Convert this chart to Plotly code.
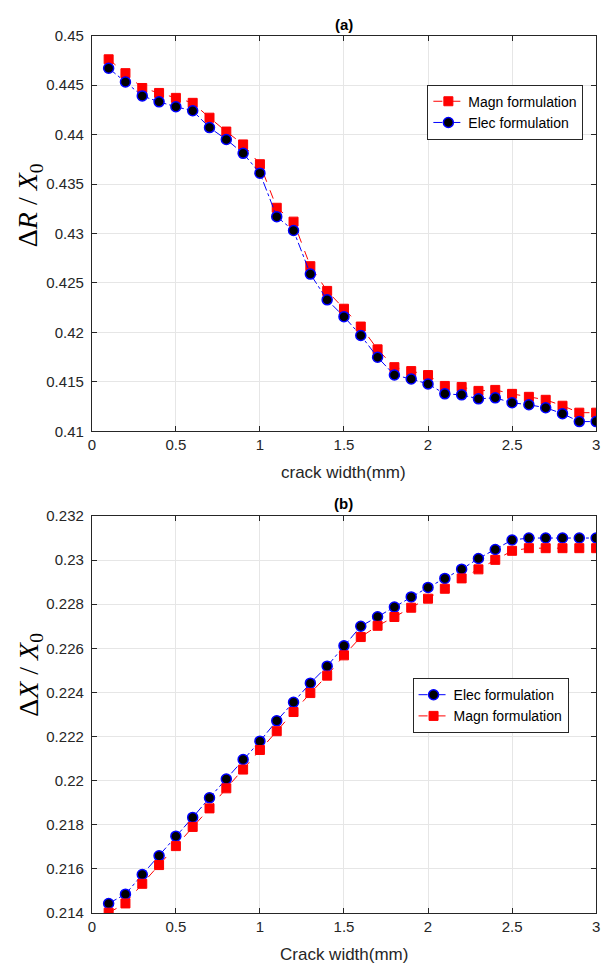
import plotly.graph_objects as go

crack_width = [round(0.1 * i, 1) for i in range(1, 31)]

# (a) ΔR / X0
dR_magn = [0.4476, 0.4462, 0.4447, 0.4442, 0.4437, 0.4432, 0.4417, 0.4403, 0.4390, 0.4370,
           0.4326, 0.4312, 0.4267, 0.4242, 0.4224, 0.4206, 0.4183, 0.4165, 0.4161, 0.4157,
           0.4146, 0.4145, 0.4141, 0.4142, 0.4138, 0.4135, 0.4132, 0.4126, 0.4119, 0.4119]
dR_elec = [0.4467, 0.4453, 0.4439, 0.4433, 0.4428, 0.4424, 0.4407, 0.4395, 0.4381, 0.4361,
           0.4317, 0.4303, 0.4259, 0.4233, 0.4216, 0.4197, 0.4175, 0.4157, 0.4153, 0.4148,
           0.4138, 0.4137, 0.4133, 0.4134, 0.4129, 0.4127, 0.4124, 0.4118, 0.4110, 0.4110]

# (b) ΔX / X0
dX_elec = [0.21443, 0.21485, 0.21574, 0.21659, 0.21748, 0.21833, 0.21922, 0.22007, 0.22096, 0.22179,
           0.22271, 0.22355, 0.22442, 0.22519, 0.22611, 0.22700, 0.22743, 0.22787, 0.22833, 0.22876,
           0.22917, 0.22959, 0.23007, 0.23048, 0.23091, 0.23100, 0.23100, 0.23100, 0.23100, 0.23100]
dX_magn = [0.21401, 0.21443, 0.21532, 0.21617, 0.21703, 0.21790, 0.21874, 0.21965, 0.22050, 0.22139,
           0.22224, 0.22311, 0.22397, 0.22476, 0.22568, 0.22651, 0.22702, 0.22742, 0.22784, 0.22825,
           0.22870, 0.22917, 0.22958, 0.23001, 0.23042, 0.23054, 0.23054, 0.23054, 0.23054, 0.23054]

x_ticks = [0, 0.5, 1, 1.5, 2, 2.5, 3]
x_ticktext = ["0", "0.5", "1", "1.5", "2", "2.5", "3"]
ya_ticks = [0.41, 0.415, 0.42, 0.425, 0.43, 0.435, 0.44, 0.445, 0.45]
ya_ticktext = ["0.41", "0.415", "0.42", "0.425", "0.43", "0.435", "0.44", "0.445", "0.45"]
yb_ticks = [0.214, 0.216, 0.218, 0.22, 0.222, 0.224, 0.226, 0.228, 0.23, 0.232]
yb_ticktext = ["0.214", "0.216", "0.218", "0.22", "0.222", "0.224", "0.226", "0.228", "0.23", "0.232"]

W, H = 609, 973
RED = "#ff0000"
BLUE = "#0000ff"

def magn_trace(y, xa, ya, legend):
    return go.Scatter(x=crack_width, y=y, xaxis=xa, yaxis=ya, legend=legend,
                      name="Magn formulation", mode="lines+markers",
                      line=dict(color=RED, width=1, dash="dash"),
                      marker=dict(symbol="square", size=9, color=RED,
                                  line=dict(color=RED, width=1)))

def elec_trace(y, xa, ya, legend):
    return go.Scatter(x=crack_width, y=y, xaxis=xa, yaxis=ya, legend=legend,
                      name="Elec formulation", mode="lines+markers",
                      line=dict(color=BLUE, width=1, dash="dashdot"),
                      marker=dict(symbol="circle", size=10, color="black",
                                  line=dict(color=BLUE, width=1.5)))

fig = go.Figure()
fig.add_trace(magn_trace(dR_magn, "x", "y", "legend"))
fig.add_trace(elec_trace(dR_elec, "x", "y", "legend"))
fig.add_trace(elec_trace(dX_elec, "x2", "y2", "legend2"))
fig.add_trace(magn_trace(dX_magn, "x2", "y2", "legend2"))

x0, x1 = 89 / W, 600 / W
top_dom = [1 - 430 / H, 1 - 27 / H]
bot_dom = [1 - 920 / H, 1 - 516 / H]

axis_common = dict(showline=True, linecolor="#262626", linewidth=1, mirror="ticks",
                   ticks="inside", ticklen=5, tickcolor="#262626",
                   showgrid=True, gridcolor="#e6e6e6", gridwidth=1, zeroline=False,
                   ticklabeloverflow="allow",
                   tickfont=dict(family="Liberation Sans, Arial", size=15, color="#262626"))

legend_common = dict(xanchor="left", yanchor="top", bgcolor="white",
                     bordercolor="#262626", borderwidth=1,
                     font=dict(family="Liberation Sans, Arial", size=14, color="black"),
                     itemwidth=30, tracegroupgap=0)

def ann(text, x, y, size, family="Liberation Sans, Arial", color="#262626", angle=0):
    return dict(text=text, x=x, y=y, xref="paper", yref="paper", showarrow=False,
                xanchor="center", yanchor="middle", textangle=angle,
                font=dict(family=family, size=size, color=color))

fig.update_layout(
    width=W, height=H,
    margin=dict(l=0, r=0, t=0, b=0),
    paper_bgcolor="white", plot_bgcolor="white",
    xaxis=dict(domain=[x0, x1], anchor="y", range=[0, 3], tickvals=x_ticks,
               ticktext=x_ticktext, **axis_common),
    yaxis=dict(domain=top_dom, anchor="x", range=[0.41, 0.45], tickvals=ya_ticks,
               ticktext=ya_ticktext, ticklabelstandoff=4, **axis_common),
    xaxis2=dict(domain=[x0, x1], anchor="y2", range=[0, 3], tickvals=x_ticks,
                ticktext=x_ticktext, **axis_common),
    yaxis2=dict(domain=bot_dom, anchor="x2", range=[0.214, 0.232], tickvals=yb_ticks,
                ticktext=yb_ticktext, ticklabelstandoff=4, **axis_common),
    legend=dict(x=429 / W, y=1 - 77 / H, **legend_common),
    legend2=dict(x=414 / W, y=1 - 681 / H, **legend_common),
    font=dict(family="Liberation Sans, Arial", color="#262626"),
    annotations=[
        ann("<b>(a)</b>", (x0 + x1) / 2, 1 - 16 / H, 15, color="black"),
        ann("<b>(b)</b>", (x0 + x1) / 2, 1 - 503 / H, 15, color="black"),
        ann("crack width(mm)", (x0 + x1) / 2, 1 - 472 / H, 17),
        ann("Crack width(mm)", (x0 + x1) / 2, 1 - 962 / H, 17),
        ann("Δ<i>R</i> / <i>X</i><sub>0</sub>", 26 / W, 1 - 200 / H, 28,
            family="Liberation Serif, Times New Roman", color="black", angle=-90),
        ann("Δ<i>X</i> / <i>X</i><sub>0</sub>", 26 / W, 1 - 678 / H, 28,
            family="Liberation Serif, Times New Roman", color="black", angle=-90),
    ],
)

fig.write_html("out.html", config={"displayModeBar": False},
               post_script="document.body.style.margin='0';document.body.style.overflow='hidden';")
